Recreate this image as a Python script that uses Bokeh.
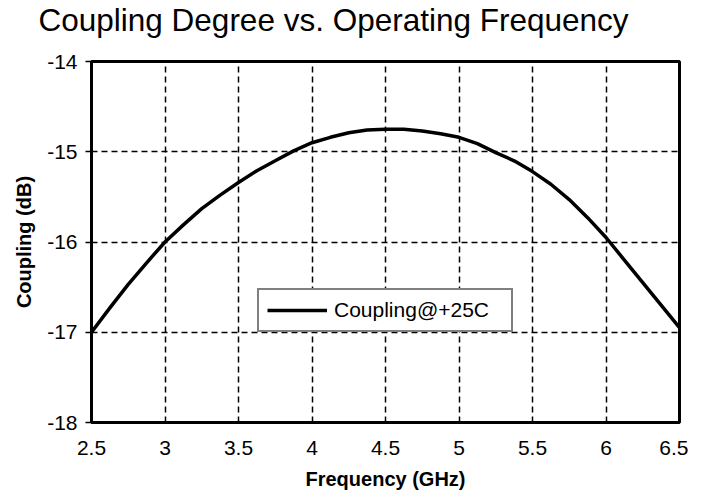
from bokeh.plotting import figure
from bokeh.models import FixedTicker, Legend, LegendItem, ColumnDataSource, Title
from bokeh.embed import file_html
from bokeh.resources import INLINE

# ---- data ----
freq_ghz = [2.5, 2.625, 2.75, 2.875, 3.0, 3.125, 3.25, 3.375, 3.5, 3.625, 3.75, 3.875, 4.0,
            4.125, 4.25, 4.375, 4.5, 4.625, 4.75, 4.875, 5.0, 5.125, 5.25, 5.375, 5.5,
            5.625, 5.75, 5.875, 6.0, 6.125, 6.25, 6.375, 6.5]
coupling_db = [-17.0, -16.73, -16.47, -16.23, -16.0, -15.81, -15.63, -15.48, -15.34, -15.21, -15.1,
               -14.99, -14.9, -14.84, -14.79, -14.76, -14.75, -14.75, -14.77, -14.8, -14.84, -14.91,
               -15.01, -15.1, -15.22, -15.36, -15.53, -15.73, -15.95, -16.2, -16.45, -16.7, -16.95]
x_ticks = [2.5, 3, 3.5, 4, 4.5, 5, 5.5, 6, 6.5]
x_tick_labels = ["2.5", "3", "3.5", "4", "4.5", "5", "5.5", "6", "6.5"]
y_ticks = [-18, -17, -16, -15, -14]
y_tick_labels = ["-18", "-17", "-16", "-15", "-14"]
series_name = "Coupling@+25C"
title_text = "Coupling Degree vs. Operating Frequency"

FONT = "Liberation Sans"

p = figure(width=688, height=494, x_range=(2.5, 6.5), y_range=(-18, -14),
           output_backend="svg", toolbar_location=None,
           min_border_left=91, min_border_right=9, min_border_top=61, min_border_bottom=72)

# spacer panel between the frame and the title (closest to frame)
spacer = Title(text=" ", text_font=FONT, text_font_size="10px", standoff=9)
p.add_layout(spacer, "above")
main_title = Title(text=title_text, text_font=FONT, text_font_size="31.5px",
                   text_font_style="normal", text_color="black", align="left",
                   vertical_align="top", offset=-53, standoff=0)
p.add_layout(main_title, "above")

p.outline_line_color = "black"
p.outline_line_width = 3
p.background_fill_color = "white"
p.border_fill_color = "white"

src = ColumnDataSource(dict(x=freq_ghz, y=coupling_db))
r = p.line("x", "y", source=src, line_color="black", line_width=3.5, line_join="round")

# axes
p.xaxis.ticker = FixedTicker(ticks=x_ticks)
p.yaxis.ticker = FixedTicker(ticks=y_ticks)
p.xaxis.major_label_overrides = {(int(t) if float(t).is_integer() else t): l for t, l in zip(x_ticks, x_tick_labels)}
p.yaxis.major_label_overrides = {t: l for t, l in zip(y_ticks, y_tick_labels)}
p.xaxis.minor_tick_line_color = None
p.yaxis.minor_tick_line_color = None
for ax in (p.xaxis[0], p.yaxis[0]):
    ax.axis_line_color = None
    ax.major_label_text_font = FONT
    ax.major_label_text_font_size = "21px"
    ax.major_label_text_color = "black"
    ax.axis_label_text_font = FONT
    ax.axis_label_text_font_size = "20px"
    ax.axis_label_text_font_style = "bold"
    ax.axis_label_text_color = "black"
    ax.major_tick_line_color = "black"
    ax.major_tick_line_width = 1.5
    ax.major_tick_in = 0

p.xaxis.axis_label = "Frequency (GHz)"
p.yaxis.axis_label = "Coupling (dB)"
p.xaxis.major_tick_out = 0
p.xaxis.major_label_standoff = 18
p.xaxis.axis_label_standoff = 10
p.yaxis.major_tick_out = 6
p.yaxis.major_label_standoff = 8
p.yaxis.axis_label_standoff = 9

# grid
for g in (p.xgrid[0], p.ygrid[0]):
    g.grid_line_color = "black"
    g.grid_line_width = 1.5
    g.grid_line_dash = "6 4"

# legend
legend = Legend(items=[LegendItem(label=series_name, renderers=[r])],
                location=(166, 90), margin=0, padding=8, glyph_width=60, glyph_height=24,
                label_standoff=7, label_width=169,
                label_text_font=FONT, label_text_font_size="21px", label_text_color="black",
                border_line_color="black", border_line_width=2,
                background_fill_color="white", background_fill_alpha=1.0)
p.add_layout(legend)

open("out.html", "w").write(file_html(p, INLINE))
